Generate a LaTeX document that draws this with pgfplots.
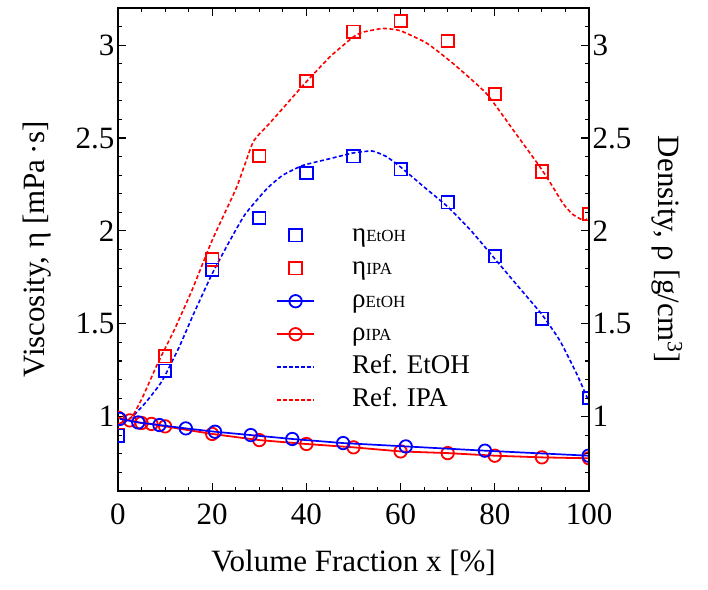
\documentclass[border=0pt]{standalone}
\usepackage{pgfplots}
\pgfplotsset{compat=1.18}
\usepackage{fontspec}
\setmainfont{Liberation Serif}
\definecolor{myblue}{RGB}{0,0,255}
\definecolor{myred}{RGB}{255,0,0}
\begin{document}
\begin{tikzpicture}
\useasboundingbox (-118bp,-99bp) rectangle (590bp,491bp);
\pgfplotsset{
  every axis/.append style={
    scale only axis, width=471bp, height=483bp,
    xmin=0, xmax=100, ymin=0.6, ymax=3.2,
    tick align=inside,
    major tick length=8bp, minor tick length=4.5bp,
    every tick/.style={black, line width=1.1pt},
    axis line style={line width=1.6pt},
    /pgf/number format/assume math mode=true,
    tick label style={font=\fontsize{31bp}{31bp}\selectfont},
    label style={font=\fontsize{31bp}{31bp}\selectfont},
    ytick={1,1.5,2,2.5,3},
    minor ytick={0.6,0.7,0.8,0.9,1.1,1.2,1.3,1.4,1.6,1.7,1.8,1.9,2.1,2.2,2.3,2.4,2.6,2.7,2.8,2.9,3.1,3.2},
    xtick={0,20,40,60,80,100},
    minor xtick={5,10,15,25,30,35,45,50,55,65,70,75,85,90,95},
    clip marker paths=true,
  }
}
\begin{axis}[
  xtick pos=both, xticklabel pos=bottom,
  ytick pos=both, yticklabel pos=left,
  xticklabel style={yshift=-9bp},
  xlabel={Volume Fraction x [\%]},
  ylabel={Viscosity, η [mPa\,·s]},
  xlabel style={at={(axis description cs:0.5,-0.149)}, anchor=center},
  ylabel style={at={(axis description cs:-0.172,0.5)}, anchor=center},
  legend image code/.code={\draw[mark repeat=2,mark phase=2,#1] plot coordinates {(0bp,0bp) (18.5bp,0bp) (37bp,0bp)};},
  legend style={draw=none, fill=none, at={(axis description cs:0.335,0.56)}, anchor=north west,
    font=\fontsize{27bp}{27bp}\selectfont, inner sep=0pt,
    nodes={inner sep=1bp, text height=20bp, text depth=7bp},
    row sep=4bp,
    /tikz/every odd column/.append style={column sep=36bp}},
  legend cell align=left,
]
% reference curves
\addplot[forget plot, color=myblue, line width=1.6bp, dash pattern=on 4bp off 2.5bp, smooth, tension=0.3] coordinates {
(0,0.95) (3,1.0) (6,1.08) (9.3,1.19) (12.9,1.37) (16,1.55) (20,1.77) (23.8,1.95) (27,2.09) (31.6,2.227) (35,2.3) (39.3,2.353) (45,2.389) (50,2.42) (54,2.43) (57,2.40) (60,2.344) (65,2.236) (70,2.13) (75,2.0) (80,1.85) (85,1.70) (90,1.55) (93.8,1.41) (97.4,1.23) (100,1.08)};
\addplot[forget plot, color=myred, line width=1.6bp, dash pattern=on 4bp off 2.5bp, smooth, tension=0.3] coordinates {
(0,0.95) (3,1.0) (5.5,1.12) (8.3,1.28) (12,1.47) (15.7,1.68) (20,1.95) (25.2,2.236) (28.7,2.479) (32,2.574) (35,2.66) (39.3,2.784) (45,2.937) (50,3.045) (52,3.07) (56.3,3.09) (60,3.077) (65.6,3.01) (71.2,2.90) (78.2,2.74) (84,2.54) (89.6,2.344) (92,2.25) (94.5,2.147) (96.5,2.09) (98.8,2.057) (100,2.07)};
% viscosity squares
\addplot[forget plot, only marks, color=myred, mark=square, mark size=6.2bp, mark options={line width=1.8bp}] coordinates {
(0,0.90) (10,1.325) (20,1.846) (30,2.403) (40,2.808) (50,3.072) (60,3.129) (70,3.023) (80,2.736) (90,2.32) (100,2.09)};
\addplot[forget plot, only marks, color=myblue, mark=square, mark size=6.2bp, mark options={line width=1.8bp}] coordinates {
(0,0.898) (10,1.248) (20,1.791) (30,2.07) (40,2.312) (50,2.402) (60,2.332) (70,2.154) (80,1.863) (90,1.528) (100,1.10)};
% density
\addplot[forget plot, color=myred, line width=1.8bp, mark=o, mark size=6.2bp, mark options={fill=white, line width=1.8bp}] coordinates {
(0,0.995) (2.5,0.98) (5,0.966) (7.1,0.961) (10,0.948) (20,0.907) (30,0.874) (40,0.853) (50,0.835) (60,0.813) (70,0.804) (80,0.790) (90,0.781) (100,0.776)};
\addplot[forget plot, color=myblue, line width=1.7bp, mark=o, mark size=6.2bp, mark options={fill=white, line width=1.8bp}] coordinates {
(0.4,0.988) (4.3,0.969) (8.8,0.955) (14.4,0.937) (20.6,0.919) (28.2,0.901) (37.0,0.880) (47.8,0.858) (61.1,0.840) (77.9,0.817) (99.9,0.790)};
% legend
\addlegendimage{only marks, color=myblue, mark=square, mark size=6.2bp, mark options={line width=1.8bp}}
\addlegendentry{η{\fontsize{17bp}{17bp}\selectfont EtOH}}
\addlegendimage{only marks, color=myred, mark=square, mark size=6.2bp, mark options={line width=1.8bp}}
\addlegendentry{η{\fontsize{17bp}{17bp}\selectfont IPA}}
\addlegendimage{color=myblue, line width=1.7bp, mark=o, mark size=6.2bp, mark options={fill=white, line width=1.8bp}}
\addlegendentry{ρ{\fontsize{17bp}{17bp}\selectfont EtOH}}
\addlegendimage{color=myred, line width=1.7bp, mark=o, mark size=6.2bp, mark options={fill=white, line width=1.8bp}}
\addlegendentry{ρ{\fontsize{17bp}{17bp}\selectfont IPA}}
\addlegendimage{legend image code/.code={\draw[draw=myblue, line width=2.2bp, dash pattern=on 4bp off 2bp] (0bp,0bp) -- (37bp,0bp);}}
\addlegendentry{Ref. EtOH}
\addlegendimage{legend image code/.code={\draw[draw=myred, line width=2.2bp, dash pattern=on 4bp off 2bp] (0bp,0bp) -- (37bp,0bp);}}
\addlegendentry{Ref. IPA}
\end{axis}
\begin{axis}[
  hide x axis,
  axis y line*=right,
  ylabel={Density, ρ [g/cm\textsuperscript{3}]},
  ylabel style={at={(axis description cs:1.166,0.5)}, anchor=center, rotate=180},
]
\addplot[draw=none] coordinates {(0,1)};
\end{axis}
\end{tikzpicture}
\end{document}
